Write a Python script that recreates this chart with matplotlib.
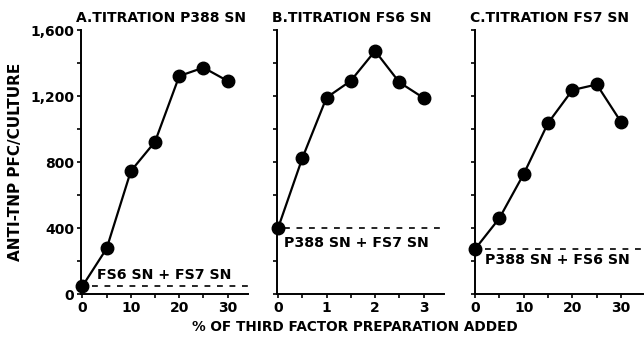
import numpy as np
import matplotlib.pyplot as plt
from matplotlib.ticker import MultipleLocator

# panel A: titration P388 SN
a_x = [0, 5, 10, 15, 20, 25, 30]
a_y = [48, 276, 745, 923, 1321, 1372, 1291]
a_base = 50
# panel B: titration FS6 SN
b_x = [0, 0.5, 1, 1.5, 2, 2.5, 3]
b_y = [398, 822, 1190, 1292, 1473, 1283, 1188]
b_base = 400
# panel C: titration FS7 SN
c_x = [0, 5, 10, 15, 20, 25, 30]
c_y = [272, 459, 727, 1036, 1236, 1270, 1042]
c_base = 270

titles = ["A.TITRATION P388 SN", "B.TITRATION FS6 SN", "C.TITRATION FS7 SN"]
base_labels = ["FS6 SN + FS7 SN", "P388 SN + FS7 SN", "P388 SN + FS6 SN"]
y_ticks = [0, 400, 800, 1200, 1600]
y_ticklabels = ["0", "400", "800", "1,200", "1,600"]

plt.rcParams['font.family'] = ['DejaVu Sans']
plt.rcParams['font.weight'] = 'bold'

fig = plt.figure(figsize=(6.44, 3.39), dpi=100)
W, H = 644, 339
boxes = [(81, 248), (277, 444), (475, 643)]
top, bottom = 30, 294

panels = [
    (a_x, a_y, a_base, (-0.3, 34.2), [0, 10, 20, 30], 5, (2, 34.2), (3, 118)),
    (b_x, b_y, b_base, (-0.02, 3.42), [0, 1, 2, 3], 0.5, (0.12, 3.42), (0.12, 312)),
    (c_x, c_y, c_base, (0, 34.5), [0, 10, 20, 30], 5, (2, 34.5), (2, 205)),
]

for i, (xs, ys, base, xlim, xt, minor, dash_x, txt) in enumerate(panels):
    l, r = boxes[i]
    ax = fig.add_axes([l / W, 1 - bottom / H, (r - l) / W, (bottom - top) / H])
    ax.plot(xs, ys, color='black', lw=1.6, marker='o', ms=9, clip_on=False, zorder=3)
    ax.plot(dash_x, [base, base], color='black', lw=1.2, ls=(0, (3.5, 4)), clip_on=False)
    ax.text(txt[0], txt[1], base_labels[i], fontsize=10.2, fontweight='bold', va='center', ha='left')
    ax.set_xlim(*xlim)
    ax.set_ylim(0, 1600)
    ax.spines['top'].set_visible(False)
    ax.spines['right'].set_visible(False)
    for s in ['left', 'bottom']:
        ax.spines[s].set_linewidth(1.4)
    ax.set_xticks(xt)
    ax.set_xticklabels([str(v) for v in xt], fontsize=10, fontweight='bold')
    ax.xaxis.set_minor_locator(MultipleLocator(minor))
    ax.yaxis.set_major_locator(MultipleLocator(400))
    ax.yaxis.set_minor_locator(MultipleLocator(200))
    ax.tick_params(axis='both', which='both', direction='out', length=3, width=1.2, pad=2)
    if i == 0:
        ax.set_yticks(y_ticks)
        ax.set_yticklabels(y_ticklabels, fontsize=10, fontweight='bold')
        ax.set_ylabel("ANTI-TNP PFC/CULTURE", fontsize=11, fontweight='bold', labelpad=5)
    else:
        ax.set_yticklabels([])
    fig.text((l - 5) / W, 1 - 18 / H, titles[i], fontsize=10, fontweight='bold', va='center', ha='left')

fig.text(355 / W, 1 - 327 / H, "% OF THIRD FACTOR PREPARATION ADDED", fontsize=9.8,
         fontweight='bold', ha='center', va='center')

fig.savefig("out.png", dpi=100)
